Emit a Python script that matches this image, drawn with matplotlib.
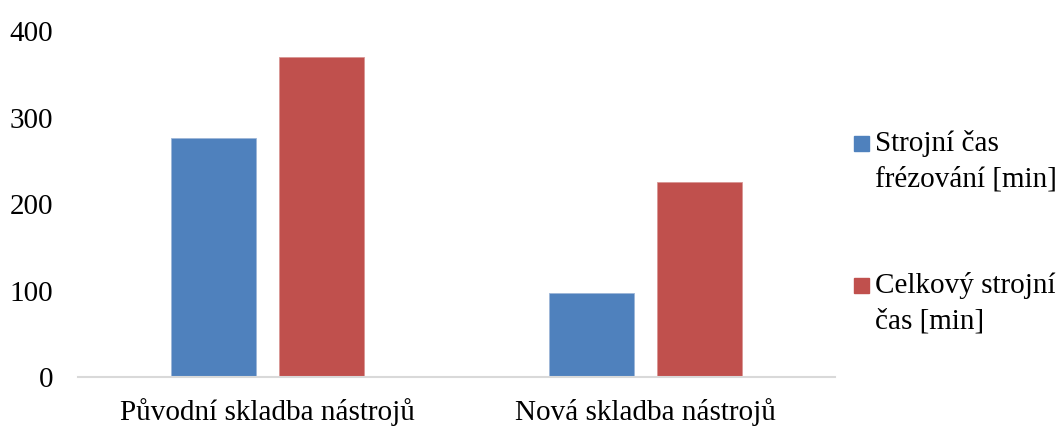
import matplotlib.pyplot as plt
import numpy as np
from matplotlib.patches import Rectangle

plt.rcParams['font.family'] = ['Liberation Serif', 'DejaVu Serif']

categories = ['Původní skladba nástrojů', 'Nová skladba nástrojů']
series_names = ['Strojní čas\nfrézování [min]', 'Celkový strojní\nčas [min]']
frezovani = [276, 97]
celkovy = [370, 225]
colors = ['#4F81BD', '#C0504D']

fig = plt.figure(figsize=(10.59, 4.26), dpi=100)
ax = fig.add_axes([0.0737, 0.115, 0.7148, 0.812])

x = np.arange(len(categories))
w = 0.2246
off = 0.1423
ax.bar(x - off, frezovani, w, color=colors[0], edgecolor='#9DB6D8', linewidth=0.6)
ax.bar(x + off, celkovy, w, color=colors[1], edgecolor='#D99694', linewidth=0.6)

ax.set_xlim(-0.5, 1.5)
ax.set_ylim(0, 400)
ax.set_yticks([0, 100, 200, 300, 400])
ax.set_xticks(x)
ax.set_xticklabels(categories)
ax.tick_params(axis='both', length=0, labelsize=21, colors='black')
ax.tick_params(axis='y', pad=18)
ax.tick_params(axis='x', pad=15)
for s in ['top', 'right', 'left']:
    ax.spines[s].set_visible(False)
ax.spines['bottom'].set_color('#D9D9D9')
ax.spines['bottom'].set_linewidth(1.5)

# legenda vpravo
leg_y = [0.672, 0.338]
for name, c, yy in zip(series_names, colors, leg_y):
    fig.add_artist(Rectangle((0.806, yy - 0.026), 0.0142, 0.035, color=c,
                             transform=fig.transFigure))
    fig.text(0.826, yy + 0.024, name, fontsize=21, va='top', ha='left',
             linespacing=1.5)

fig.savefig('out.png', dpi=100)
